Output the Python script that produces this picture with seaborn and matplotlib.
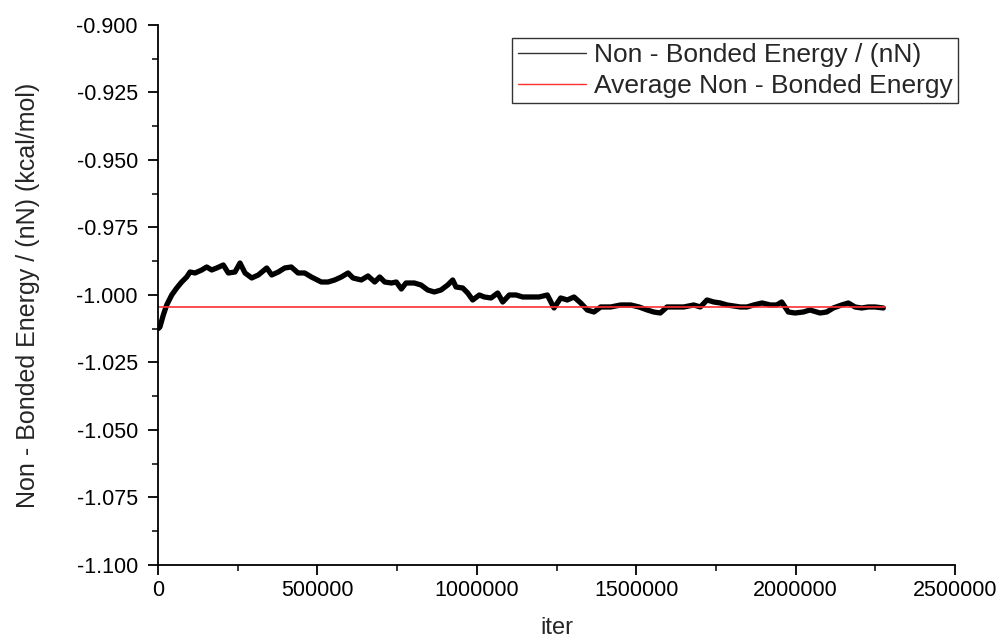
import matplotlib
matplotlib.use("Agg")
import matplotlib.pyplot as plt
import seaborn as sns
import pandas as pd
from matplotlib.ticker import MultipleLocator, FormatStrFormatter

iters = [0, 6000, 16600, 27300, 43000, 58700, 74300, 90000, 100400, 116100,
         137100, 152800, 168400, 184100, 204800, 220500, 241500, 257200, 272900,
         293900, 314600, 341000, 356700, 377400, 397400, 418100, 439200, 460200,
         480900, 512200, 533300, 554300, 575000, 596000, 611700, 637700, 658700,
         679700, 695400, 711100, 731800, 747500, 763200, 777900, 804000, 825000,
         846000, 866700, 887700, 908700, 924400, 934800, 955800, 971400, 987100,
         1007900, 1023500, 1044600, 1065500, 1081300, 1102000, 1123000, 1144000,
         1169100, 1195100, 1221200, 1242200, 1263200, 1283900, 1304900, 1325900,
         1346600, 1367600, 1388600, 1420000, 1451400, 1482800, 1508800, 1534800,
         1554900, 1575600, 1596600, 1617600, 1649000, 1680400, 1701100, 1722100,
         1743100, 1763800, 1784800, 1805800, 1826600, 1847600, 1868600, 1894600,
         1920700, 1940700, 1956400, 1977100, 1998100, 2024200, 2045200, 2076600,
         2097600, 2118300, 2144600, 2165400, 2186300, 2207300, 2228100, 2249100,
         2275100]
energy = [-1.0125, -1.01185, -1.00741, -1.00370, -1.00000, -0.99741, -0.99519,
          -0.99333, -0.99148, -0.99185, -0.99074, -0.98963, -0.99074, -0.99000,
          -0.98889, -0.99185, -0.99148, -0.98815, -0.99185, -0.99370, -0.99259,
          -0.99000, -0.99259, -0.99148, -0.99000, -0.98963, -0.99185, -0.99185,
          -0.99333, -0.99519, -0.99519, -0.99444, -0.99333, -0.99185, -0.99370,
          -0.99444, -0.99296, -0.99519, -0.99333, -0.99519, -0.99556, -0.99519,
          -0.99778, -0.99556, -0.99556, -0.99630, -0.99815, -0.99889, -0.99815,
          -0.99630, -0.99444, -0.99704, -0.99741, -0.99926, -1.00185, -1.00000,
          -1.00074, -1.00111, -0.99926, -1.00259, -1.00000, -1.00000, -1.00074,
          -1.00074, -1.00074, -1.00000, -1.00481, -1.00111, -1.00185, -1.00074,
          -1.00296, -1.00556, -1.00630, -1.00444, -1.00444, -1.00370, -1.00370,
          -1.00444, -1.00556, -1.00630, -1.00667, -1.00444, -1.00444, -1.00444,
          -1.00370, -1.00444, -1.00185, -1.00259, -1.00296, -1.00370, -1.00407,
          -1.00444, -1.00444, -1.00370, -1.00296, -1.00370, -1.00370, -1.00259,
          -1.00630, -1.00667, -1.00630, -1.00556, -1.00667, -1.00630, -1.00481,
          -1.00370, -1.00296, -1.00444, -1.00481, -1.00444, -1.00444, -1.00481]
avg_energy = -1.0046
avg_x = [0, 2280000]

label_main = "Non - Bonded Energy / (nN)"
label_avg = "Average Non - Bonded Energy"

sns.set_style("ticks")
plt.rcParams['font.family'] = ['Liberation Sans', 'DejaVu Sans']

df = pd.DataFrame({"iter": iters, "energy": energy})
df_avg = pd.DataFrame({"iter": avg_x, "energy": [avg_energy] * len(avg_x)})

fig = plt.figure(figsize=(10.02, 6.41), dpi=100)
ax = fig.add_axes([0.1577, 0.1186, 0.7954, 0.8424])

sns.lineplot(data=df, x="iter", y="energy", ax=ax, color="black", linewidth=3.8,
             label=label_main, estimator=None, sort=False)
sns.lineplot(data=df_avg, x="iter", y="energy", ax=ax, color="#ff3030", linewidth=1.2,
             label=label_avg, estimator=None)

ax.set_xlim(0, 2500000)
ax.set_ylim(-1.1, -0.9)
ax.xaxis.set_major_locator(MultipleLocator(500000))
ax.xaxis.set_minor_locator(MultipleLocator(250000))
ax.yaxis.set_major_locator(MultipleLocator(0.025))
ax.yaxis.set_minor_locator(MultipleLocator(0.0125))
ax.yaxis.set_major_formatter(FormatStrFormatter("%.3f"))
ax.xaxis.set_major_formatter(FormatStrFormatter("%d"))

for s in ["top", "right"]:
    ax.spines[s].set_visible(False)
for s in ["left", "bottom"]:
    ax.spines[s].set_linewidth(1.3)
    ax.spines[s].set_color("black")

ax.tick_params(axis="both", which="major", direction="out", length=7.5, width=1.3,
               labelsize=15.5, colors="black")
ax.tick_params(axis="both", which="minor", direction="out", length=4, width=1.3)
ax.tick_params(axis="y", which="major", pad=7)
ax.tick_params(axis="x", which="major", pad=3.5)

ax.set_xlabel("iter", fontsize=17, labelpad=11)
ax.set_ylabel("Non - Bonded Energy / (nN) (kcal/mol)", fontsize=18, labelpad=26)

leg = ax.legend(loc="upper right", bbox_to_anchor=(1.004, 0.976), fontsize=19,
                frameon=True, fancybox=False, edgecolor="black", handlelength=2.6,
                borderpad=0.2, labelspacing=0.25, handletextpad=0.3, borderaxespad=0)
leg.get_frame().set_linewidth(1.0)
leg.get_lines()[0].set_linewidth(1.0)
leg.get_lines()[0].set_color("#333333")
leg.get_lines()[1].set_linewidth(1.0)

fig.savefig("out.png", dpi=100)
